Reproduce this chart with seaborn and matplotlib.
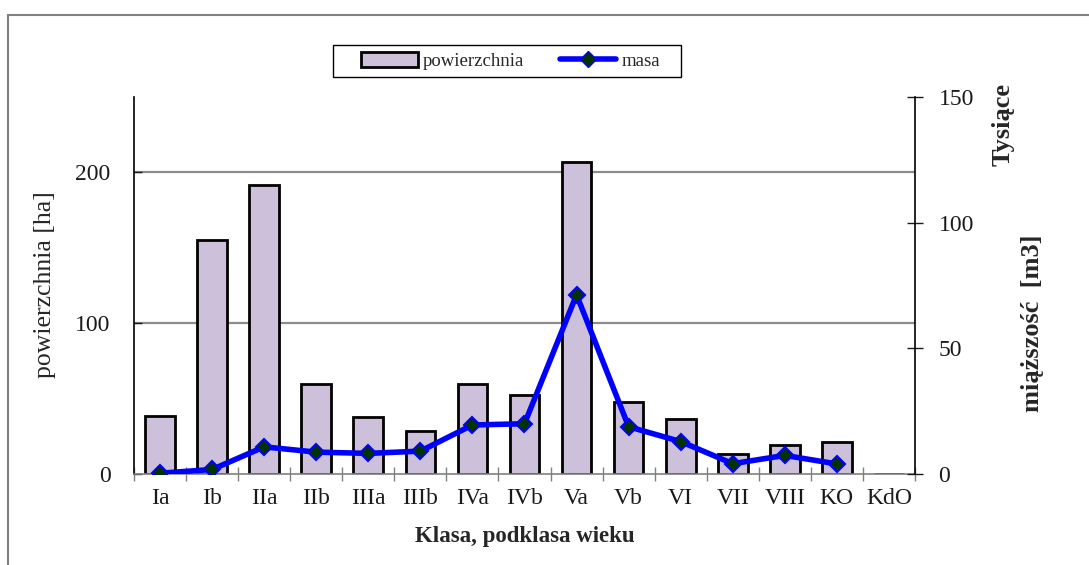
import matplotlib
matplotlib.use("Agg")
import matplotlib.pyplot as plt
import matplotlib.patches as mpatches
import matplotlib.lines as mlines
import numpy as np
import pandas as pd
import seaborn as sns

categories = ["Ia", "Ib", "IIa", "IIb", "IIIa", "IIIb", "IVa", "IVb", "Va", "Vb", "VI", "VII", "VIII", "KO", "KdO"]
powierzchnia = [38.5, 155.5, 191.5, 59.5, 37.5, 28.5, 59.5, 52.5, 207, 47.5, 36.5, 13, 19, 21, 0]
masa_cats = ["Ia", "Ib", "IIa", "IIb", "IIIa", "IIIb", "IVa", "IVb", "Va", "Vb", "VI", "VII", "VIII", "KO"]
masa = [0.3, 1.8, 10.8, 8.7, 8.2, 9.1, 19.5, 20.0, 71.3, 18.8, 12.9, 4.1, 7.4, 4.0]
left_ticks = [0, 100, 200]
right_ticks = [0, 50, 100, 150]

sns.set_theme(style="white")
plt.rcParams["font.family"] = ["Liberation Serif", "DejaVu Serif"]

BAR = "#CCC0DA"
fig = plt.figure(figsize=(10.89, 5.65), dpi=100)
ax = fig.add_axes([134/1089, 1-474/565, (915-134)/1089, (474-97)/565])

df_bar = pd.DataFrame({"klasa": categories, "pow": powierzchnia})
sns.barplot(data=df_bar, x="klasa", y="pow", order=categories, color=BAR,
            saturation=1, edgecolor="black", linewidth=2, width=0.57, ax=ax, zorder=2)
ax.set_ylim(0, 250)
ax.set_yticks(left_ticks)
ax.set_xlim(-0.5, len(categories)-0.5)
ax.set_axisbelow(True)
for y in [100, 200]:
    ax.axhline(y, color="#8c8c8c", lw=1.6, zorder=0)

ax2 = ax.twinx()
df_line = pd.DataFrame({"klasa": masa_cats, "masa": masa})
sns.pointplot(data=df_line, x="klasa", y="masa", order=categories, color="#0000FF",
              markers="D", linestyles="-", ax=ax2, errorbar=None,
              markersize=8, markerfacecolor="#003300", markeredgecolor="#0000FF",
              markeredgewidth=1.5, linewidth=4)
ax2.set_ylim(0, 150)
ax2.set_yticks(right_ticks)
ax2.set_xlim(-0.5, len(categories)-0.5)

# x ticks
ax.set_xticks(range(len(categories)))
ax.set_xticklabels(categories)
ax.set_xticks(np.arange(-0.5, len(categories), 1.0), minor=True)
ax.tick_params(axis="x", which="major", length=0, pad=10, labelsize=17, colors="#1a1a1a")
ax.tick_params(axis="x", which="minor", length=10, width=1, direction="inout", color="#808080", bottom=True)
ax.tick_params(axis="y", which="major", length=6, width=1, direction="in", pad=17, labelsize=17,
               colors="#1a1a1a", left=True)
ax2.tick_params(axis="y", which="major", length=12, width=1, direction="inout", pad=11, labelsize=17,
                colors="#1a1a1a", right=True)
ax.set_xlabel("Klasa, podklasa wieku", fontsize=16.5, fontweight="bold", labelpad=12)
ax.set_ylabel("")
ax2.set_ylabel("")
ax2.set_xlabel("")

for a in (ax, ax2):
    a.spines["top"].set_visible(False)
    a.grid(False)
ax.spines["left"].set_color("black")
ax.spines["left"].set_linewidth(1.2)
ax.spines["bottom"].set_color("#808080")
ax.spines["bottom"].set_linewidth(1.2)
ax.spines["right"].set_visible(False)
ax2.spines["left"].set_visible(False)
ax2.spines["bottom"].set_visible(False)
ax2.spines["right"].set_color("black")
ax2.spines["right"].set_linewidth(1.2)

fig.text(45/1089, 1-285/565, "powierzchnia [ha]", rotation=90, ha="center", va="center", fontsize=18.5)
fig.text(1003/1089, 1-125/565, "Tysiące", rotation=90, ha="center", va="center", fontsize=19, fontweight="bold")
fig.text(1032/1089, 1-323/565, "miąższość  [m3]", rotation=90, ha="center", va="center", fontsize=19, fontweight="bold")

# outer chart border
fig.patches.append(mpatches.Rectangle((8/1089, -0.02), 1.1, 1-15/565+0.02, transform=fig.transFigure,
                                      fill=False, edgecolor="#808080", lw=1.5, zorder=0))
# legend frame
fig.patches.append(mpatches.Rectangle((333/1089, 1-77/565), (681-333)/1089, 32/565, transform=fig.transFigure,
                                      fill=False, edgecolor="black", lw=1.0, zorder=5))

h_bar = mpatches.Patch(facecolor=BAR, edgecolor="black", linewidth=2)
h_line = mlines.Line2D([], [], color="#0000FF", lw=4, marker="D", markersize=8,
                       markerfacecolor="#003300", markeredgecolor="#0000FF")
leg = fig.legend([h_bar, h_line], ["powierzchnia", "masa"], loc="center",
                 bbox_to_anchor=(511/1089, 1-61/565), ncol=2, fontsize=13.5, frameon=False,
                 handlelength=3.0, handleheight=0.9,
                 handletextpad=0.3, columnspacing=1.9, borderpad=0.3, borderaxespad=0)
if ax2.get_legend():
    ax2.get_legend().remove()

fig.savefig("out.png", dpi=100, facecolor="white")
